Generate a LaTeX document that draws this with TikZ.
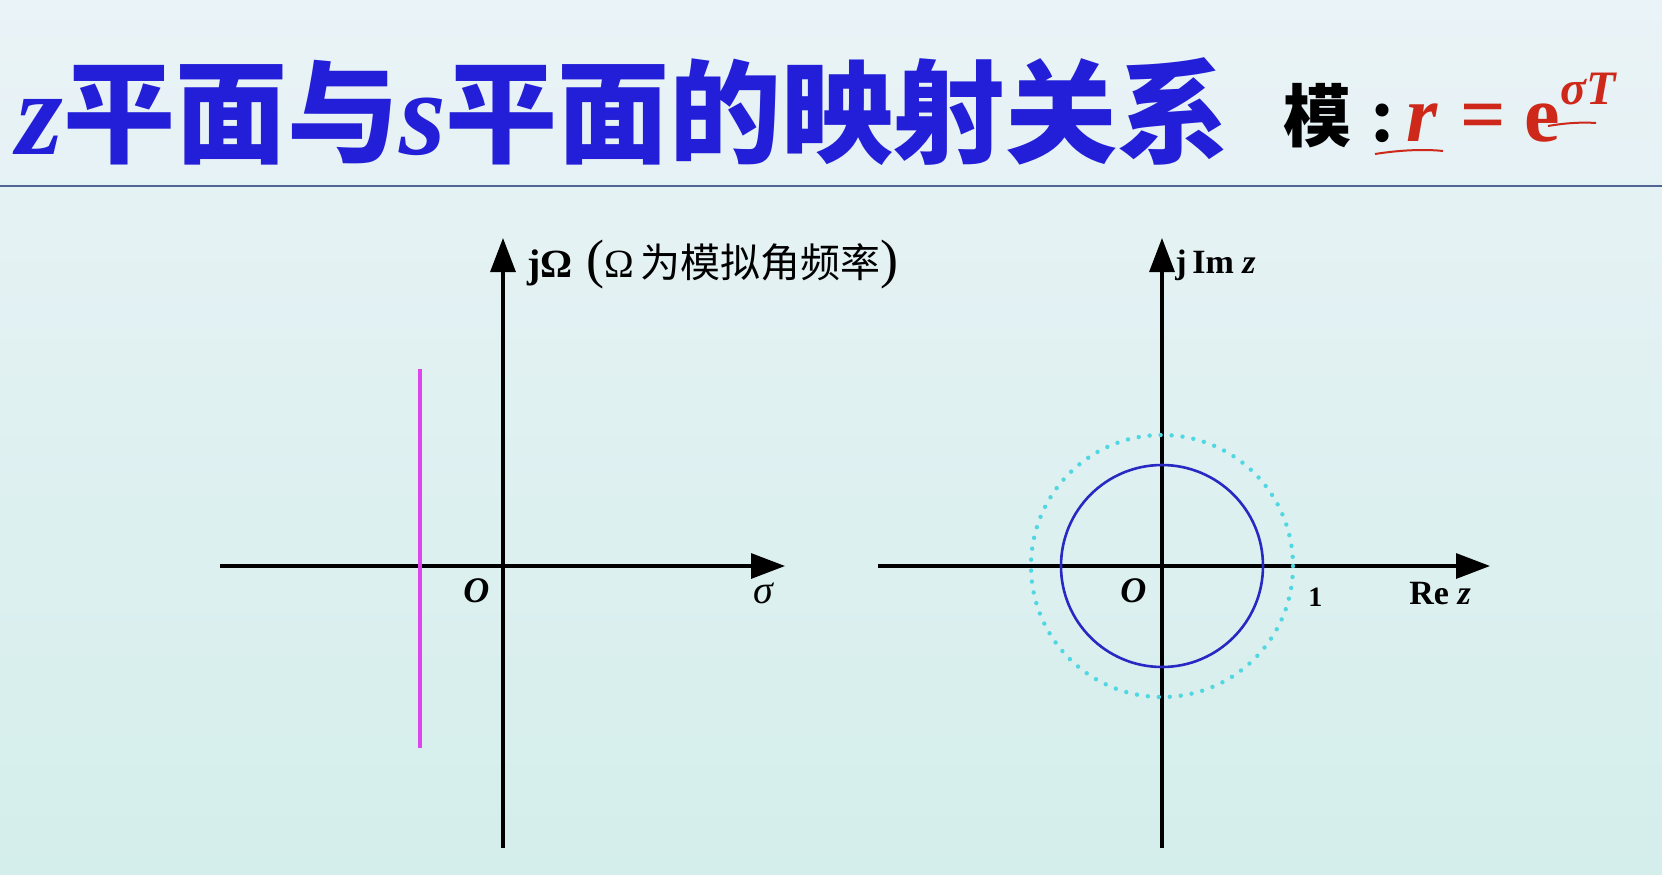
\documentclass[tikz,border=0pt]{standalone}
\usepackage{fontspec}
\setmainfont{Liberation Serif}
\newfontfamily\cjk{Noto Sans CJK SC}
\usetikzlibrary{arrows.meta}
\definecolor{titleblue}{RGB}{35,30,215}
\definecolor{formred}{RGB}{205,40,25}
\definecolor{rulegray}{RGB}{80,100,150}
\definecolor{magline}{RGB}{220,70,235}
\definecolor{unitblue}{RGB}{40,40,195}
\definecolor{dotcyan}{RGB}{80,215,225}
\definecolor{bgtop}{RGB}{234,243,247}
\definecolor{bgbot}{RGB}{212,238,235}

\begin{document}
\begin{tikzpicture}[x=0.5pt,y=-0.5pt,
    axis/.style={line width=1.6pt,-{Triangle[length=17pt,width=12.5pt]}},
    lbl/.style={inner sep=0pt,anchor=base west}]
    \fill[top color=bgtop,bottom color=bgbot] (0,0) rectangle (1662,874); % fond
    \useasboundingbox (0,0) rectangle (1662,874);
    %%%%%%%%%%%%%%%%%%%%%%%%%%%%%%%%%%
    \path(16,154) node[lbl,titleblue,font=\fontsize{56}{60}\selectfont] (title)
        {{\fontsize{60}{64}\selectfont\bfseries\itshape z}{\cjk\bfseries 平面与}{\fontsize{60}{64}\selectfont\bfseries\itshape s}{\cjk\bfseries 平面的映射关系}};
    \draw[rulegray,line width=1.4pt](0,186) -- (1662,186); % filet
    \path(1283,141) node[lbl,font=\cjk\fontsize{34}{40}\selectfont\bfseries] (mo) {模};
    \path(1369,141) node[lbl,font=\fontsize{40}{44}\selectfont\bfseries] (colon) {:};
    \path(1406,141) node[lbl,formred,font=\fontsize{40}{44}\selectfont\bfseries\itshape] (r) {r};
    \path(1460,141) node[lbl,formred,font=\fontsize{40}{44}\selectfont\bfseries] (eq) {=};
    \path(1524,141) node[lbl,formred,font=\fontsize{40}{44}\selectfont\bfseries] (ee) {e};
    \path(1560,104) node[lbl,formred,font=\fontsize{24}{28}\selectfont\bfseries\itshape] (sig) {σT};
    \draw[formred,line width=1pt](1375,154) .. controls (1400,150) and (1425,149) .. (1443,151); % sous r
    \draw[formred,line width=1pt](1548,126) .. controls (1565,123) and (1582,122) .. (1596,123); % sous sT
    %%%%%%%%%%%%%%%%%%%%%%%%%%%%%%%%%%
    \coordinate (sL) at (220,566);
    \coordinate (sR) at (785,566);
    \coordinate (sB) at (503,848);
    \coordinate (sT) at (503,238);
    \draw[axis](sL) -- (sR); % Axe sigma
    \draw[axis](sB) -- (sT); % Axe jOmega
    \draw[magline,line width=2.4pt](420,369) -- (420,748); % droite sigma<0
    \path(527,277) node[lbl,font=\fontsize{20}{24}\selectfont] (jOm)
        {{\bfseries jΩ}\,\,{\fontsize{27}{30}\selectfont(}Ω\,{\cjk 为模拟角频率}{\fontsize{27}{30}\selectfont)}};
    \path(463,602) node[lbl,font=\fontsize{18}{20}\selectfont\bfseries\itshape] (sO) {O};
    \path(753,603) node[lbl,font=\fontsize{20}{22}\selectfont\itshape] (sig) {σ};
    %%%%%%%%%%%%%%%%%%%%%%%%%%%%%%%%%%
    \coordinate (zO) at (1162,566);
    \coordinate (zL) at (878,566);
    \coordinate (zR) at (1490,566);
    \coordinate (zB) at (1162,848);
    \coordinate (zT) at (1162,238);
    \draw[axis](zL) -- (zR); % Axe Re z
    \draw[axis](zB) -- (zT); % Axe Im z
    \draw[unitblue,line width=1.3pt](zO) circle (101); % cercle r<1
    \draw[dotcyan,line width=2.2pt,line cap=round,dash pattern=on 0pt off 5.5pt](zO) circle (131); % cercle unite
    \path(1175,273) node[lbl,font=\fontsize{17}{20}\selectfont\bfseries] (jIm) {j\,Im\ {\itshape z}};
    \path(1120,602) node[lbl,font=\fontsize{18}{20}\selectfont\bfseries\itshape] (zOl) {O};
    \path(1308,606) node[lbl,font=\fontsize{14}{16}\selectfont\bfseries] (one) {1};
    \path(1409,604) node[lbl,font=\fontsize{17}{20}\selectfont\bfseries] (Re) {Re\ {\itshape z}};
\end{tikzpicture}
\end{document}
